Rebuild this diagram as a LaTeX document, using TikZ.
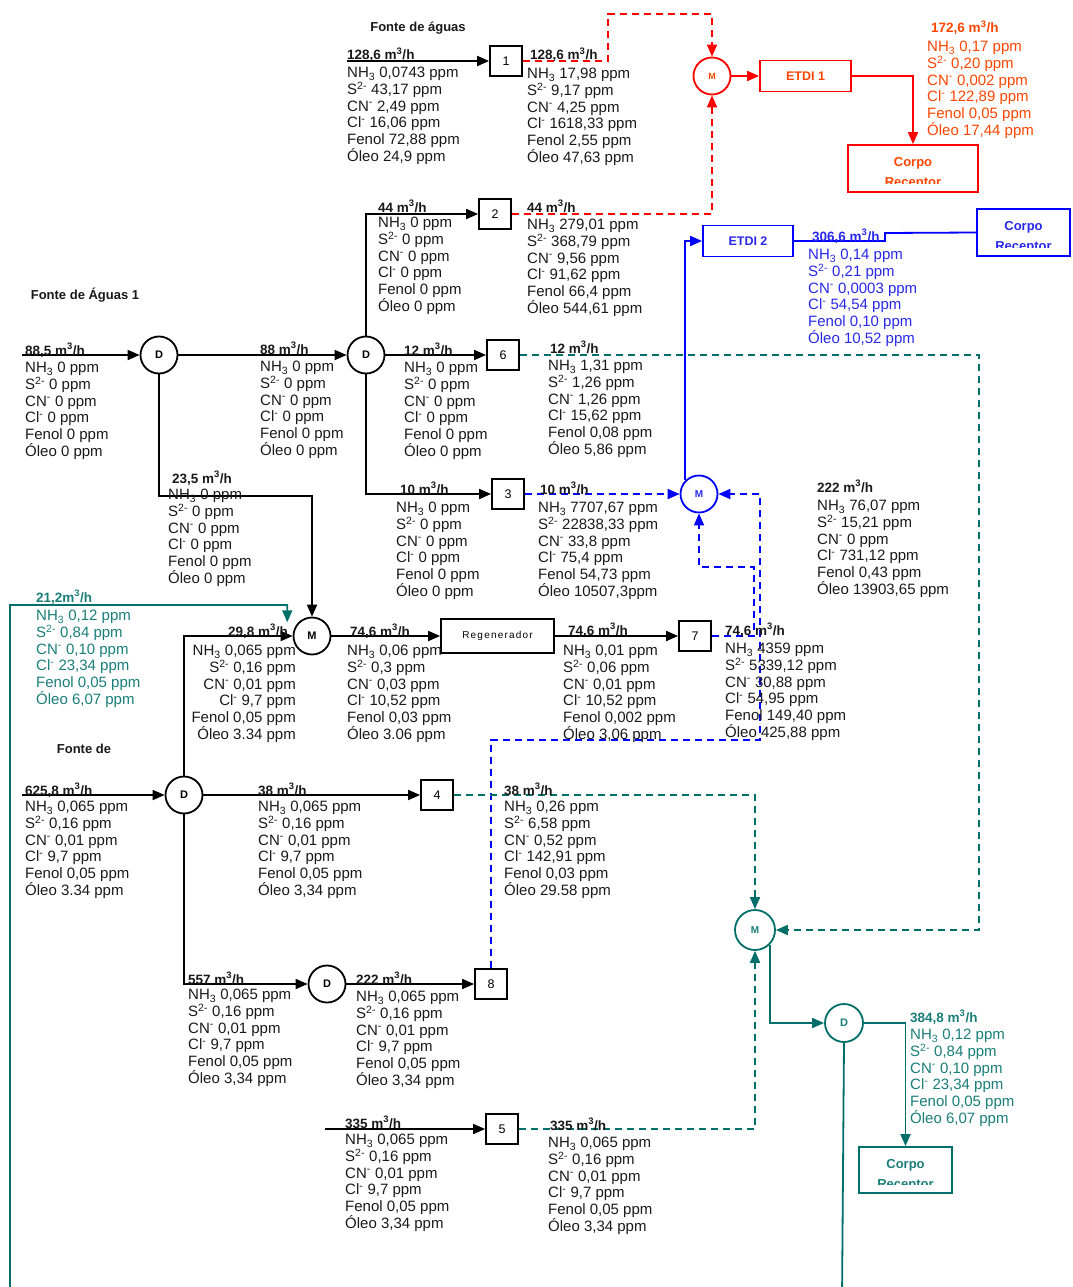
\documentclass[tikz,border=0pt]{standalone}
\usepackage{fontspec}
\setmainfont{Liberation Sans}
\usetikzlibrary{arrows.meta}
\definecolor{rd}{RGB}{255,0,0}
\definecolor{rdt}{RGB}{255,69,0}
\definecolor{bl}{RGB}{0,0,255}
\definecolor{blt}{RGB}{40,40,235}
\definecolor{tl}{RGB}{0,110,105}
\definecolor{tlt}{RGB}{25,125,120}
\definecolor{ink}{RGB}{25,25,25}
% six-line water quality list
\newcommand\pqlist[6]{NH\textsubscript{3} #1\\S\textsuperscript{2-} #2\\CN\textsuperscript{-} #3\\Cl\textsuperscript{-} #4\\Fenol #5\\Óleo #6}
\newcommand\zerolist{\pqlist{0 ppm}{0 ppm}{0 ppm}{0 ppm}{0 ppm}{0 ppm}}
\newcommand\srclist[1]{\pqlist{0,065 ppm}{0,16 ppm}{0,01 ppm}{9,7 ppm}{0,05 ppm}{#1 ppm}}
\newcommand\mcub{m\textsuperscript{3}/h}
% receiving body: box plus a label whose second line is cut by the box margin
\newcommand\corpobox[5]{%
  \node[draw=#2, line width=1.8pt, minimum width=#4pt, minimum height=#5pt] (#1) at #3 {};
  \begin{scope}
    \clip (#1.north west) rectangle ([yshift=9pt]#1.south east);
    \node[corpo, text=#2t, anchor=north] (#1t) at ([yshift=-13pt]#1.north) {Corpo\\Receptor};
  \end{scope}}
\begin{document}
\begin{tikzpicture}[x=1pt,y=-1pt,
  ln/.style={line width=1.8pt},
  tip/.style={-{Triangle[length=12pt,width=10pt]}},
  dsh/.style={dash pattern=on 7pt off 5pt},
  blk/.style={draw, line width=1.8pt, minimum width=32pt, minimum height=30pt, inner sep=0pt, font=\fontsize{12.5}{14}\selectfont},
  jn/.style={circle, draw, line width=1.8pt, minimum size=37pt, inner sep=0pt, font=\bfseries\fontsize{11}{13}\selectfont},
  lst/.style={anchor=north west, align=left, inner sep=0pt, text=ink, font=\fontsize{15}{16.7}\selectfont},
  lstr/.style={anchor=north east, align=right, inner sep=0pt, text=ink, font=\fontsize{15}{16.7}\selectfont},
  flw/.style={anchor=base west, inner sep=0pt, text=ink, font=\bfseries\fontsize{13.5}{15}\selectfont},
  ttl/.style={inner sep=0pt, text=ink, font=\bfseries\fontsize{13}{15}\selectfont},
  unit/.style={draw, line width=1.8pt, inner sep=0pt, font=\bfseries\fontsize{12.5}{14}\selectfont},
  corpo/.style={align=center, inner sep=0pt, font=\bfseries\fontsize{13}{20}\selectfont}]
\useasboundingbox (0,0) rectangle (1072,1287);

% ---------- titles ----------
\node[ttl] (t1) at (418,28) {Fonte de águas};
\node[ttl] (t2) at (85,295) {Fonte de Águas 1};
\node[ttl] (t3) at (84,749) {Fonte de};

% ---------- process blocks ----------
\node[blk] (b1) at (506,61) {1};
\node[blk] (b2) at (495,214) {2};
\node[blk] (b6) at (503,355) {6};
\node[blk] (b3) at (508,494) {3};
\node[blk] (b7) at (695,636) {7};
\node[blk] (b4) at (437,795) {4};
\node[blk] (b8) at (491,984) {8};
\node[blk] (b5) at (502,1129) {5};
\node[draw, line width=1.8pt, minimum width=113pt, minimum height=34pt, inner sep=0pt,
      font=\fontsize{10}{12}\selectfont\addfontfeature{LetterSpace=12}] (reg) at (497.5,636) {Regenerador};

% ---------- splitters and mixers ----------
\node[jn] (D1) at (159,355) {D};
\node[jn] (D2) at (366,355) {D};
\node[jn] (M1) at (312,636) {M};
\node[jn] (D3) at (184,795) {D};
\node[jn] (D4) at (327,984) {D};
\node[jn, draw=rd, text=rdt, font=\bfseries\fontsize{9}{11}\selectfont] (M2) at (712,76) {M};
\node[jn, draw=bl, text=blt, font=\bfseries\fontsize{10}{12}\selectfont] (M3) at (699,494) {M};
\node[jn, draw=tl, text=tlt, minimum size=40pt, font=\bfseries\fontsize{10}{12}\selectfont] (M4) at (755,930) {M};
\node[jn, draw=tl, text=tlt, minimum size=38pt] (D5) at (844,1023) {D};

% ---------- treatment units ----------
\node[unit, draw=rd, text=rdt, minimum width=91pt, minimum height=31pt] (e1) at (805.5,76) {ETDI 1};
\node[unit, draw=bl, text=blt, minimum width=90pt, minimum height=31pt] (e2) at (748,241) {ETDI 2};

% ---------- receiving bodies ----------
\corpobox{c1}{rd}{(913,168.5)}{130}{47}
\corpobox{c2}{bl}{(1023.5,232.5)}{93}{47}
\corpobox{c3}{tl}{(905.5,1170)}{93}{46}

% ---------- black process lines ----------
\coordinate (in1) at (347,61);
\coordinate (in2) at (22,355);
\coordinate (in3) at (22,795);
\coordinate (in4) at (325,1129);
\coordinate (k1) at (312,496);
\draw[ln,tip] (in1) -- (b1.west);
\draw[ln,tip] (D2.north) |- (b2.west);
\draw[ln,tip] (D2.east) -- (b6.west);
\draw[ln,tip] (D2.south) |- (b3.west);
\draw[ln,tip] (in2) -- (D1.west);
\draw[ln,tip] (D1.east) -- (D2.west);
\draw[ln,tip] (D1.south) |- (k1) -- (M1.north);
\draw[ln,tip] (D3.north) |- (M1.west);
\draw[ln,tip] (M1.east) -- (reg.west);
\draw[ln,tip] (reg.east) -- (b7.west);
\draw[ln,tip] (in3) -- (D3.west);
\draw[ln,tip] (D3.east) -- (b4.west);
\draw[ln,tip] (D3.south) |- (D4.west);
\draw[ln,tip] (D4.east) -- (b8.west);
\draw[ln,tip] (in4) -- (b5.west);

% ---------- ETDI 1 line (red) ----------
\draw[ln,rd,dsh,tip] (b1.east) -| (608,14) -| (M2.north);
\draw[ln,rd,dsh,tip] (b2.east) -| (M2.south);
\draw[ln,rd,tip] (M2.east) -- (e1.west);
\draw[ln,rd,tip] (e1.east) -| (c1.north);

% ---------- ETDI 2 line (blue) ----------
\draw[ln,bl,dsh,tip] (b3.east) -- (M3.west);
\draw[ln,bl,tip] (M3.north west) |- (e2.west);
\draw[ln,bl] (e2.east) -| (885,233) -- (c2.west);
\draw[ln,bl,dsh,tip] (b7.east) -| (754,567) -| (M3.south);
\draw[ln,bl,dsh,tip] (b8.north) |- (760,740) |- (M3.east);

% ---------- reuse line (teal) ----------
\draw[ln,tl,dsh,tip] (b6.east) -| (979,930) -- (M4.east);
\draw[ln,tl,dsh,tip] (b4.east) -| (M4.north);
\draw[ln,tl,dsh,tip] (b5.east) -| (M4.south);
\draw[ln,tl,tip] (M4.south east) |- (D5.west);
\draw[ln,tl,tip] (D5.east) -| (c3.north);
\draw[ln,tl,tip] (D5.south) -- (842,1300) -- (10,1300) -- (10,605) -| ([xshift=-11pt]M1.north west);

% ---------- stream data ----------
\node[flw] (f1) at (347,60) {128,6 \mcub};
\node[lst] (q1) at (347,67) {\pqlist{0,0743 ppm}{43,17 ppm}{2,49 ppm}{16,06 ppm}{72,88 ppm}{24,9 ppm}};
\node[flw] (f2) at (530,60) {128,6 \mcub};
\node[lst] (q2) at (527,68) {\pqlist{17,98 ppm}{9,17 ppm}{4,25 ppm}{1618,33 ppm}{2,55 ppm}{47,63 ppm}};
\node[flw, text=rdt] (f3) at (931,33) {172,6 \mcub};
\node[lst, text=rdt] (q3) at (927,41) {\pqlist{0,17 ppm}{0,20 ppm}{0,002 ppm}{122,89 ppm}{0,05 ppm}{17,44 ppm}};
\node[flw] (f4) at (378,212) {44 \mcub};
\node[lst] (q4) at (378,217) {\zerolist};
\node[flw] (f5) at (527,212) {44 \mcub};
\node[lst] (q5) at (527,219) {\pqlist{279,01 ppm}{368,79 ppm}{9,56 ppm}{91,62 ppm}{66,4 ppm}{544,61 ppm}};
\node[flw, text=blt] (f6) at (812,241) {306,6 \mcub};
\node[lst, text=blt] (q6) at (808,249) {\pqlist{0,14 ppm}{0,21 ppm}{0,0003 ppm}{54,54 ppm}{0,10 ppm}{10,52 ppm}};
\node[flw] (f7) at (25,355) {88,5 \mcub};
\node[lst] (q7) at (25,362) {\zerolist};
\node[flw] (f8) at (260,354) {88 \mcub};
\node[lst] (q8) at (260,361) {\zerolist};
\node[flw] (f9) at (404,355) {12 \mcub};
\node[lst] (q9) at (404,362) {\zerolist};
\node[flw] (f10) at (550,353) {12 \mcub};
\node[lst] (q10) at (548,360) {\pqlist{1,31 ppm}{1,26 ppm}{1,26 ppm}{15,62 ppm}{0,08 ppm}{5,86 ppm}};
\node[flw] (f11) at (172,483) {23,5 \mcub};
\node[lst] (q11) at (168,489) {\zerolist};
\node[flw] (f12) at (400,494) {10 \mcub};
\node[lst] (q12) at (396,502) {\zerolist};
\node[flw] (f13) at (540,494) {10 \mcub};
\node[lst] (q13) at (538,502) {\pqlist{7707,67 ppm}{22838,33 ppm}{33,8 ppm}{75,4 ppm}{54,73 ppm}{10507,3ppm}};
\node[flw] (f14) at (817,492) {222 \mcub};
\node[lst] (q14) at (817,500) {\pqlist{76,07 ppm}{15,21 ppm}{0 ppm}{731,12 ppm}{0,43 ppm}{13903,65 ppm}};
\node[flw, text=tlt] (f15) at (36,602) {21,2\mcub};
\node[lst, text=tlt] (q15) at (36,610) {\pqlist{0,12 ppm}{0,84 ppm}{0,10 ppm}{23,34 ppm}{0,05 ppm}{6,07 ppm}};
\node[flw] (f16) at (228,636) {29,8 \mcub};
\node[lstr] (q16) at (296,645) {\srclist{3.34}};
\node[flw] (f17) at (350,636) {74,6 \mcub};
\node[lst] (q17) at (347,645) {\pqlist{0,06 ppm}{0,3 ppm}{0,03 ppm}{10,52 ppm}{0,03 ppm}{3.06 ppm}};
\node[flw] (f18) at (568,635) {74,6 \mcub};
\node[lst] (q18) at (563,645) {\pqlist{0,01 ppm}{0,06 ppm}{0,01 ppm}{10,52 ppm}{0,002 ppm}{3,06 ppm}};
\node[flw] (f19) at (725,635) {74,6 \mcub};
\node[lst] (q19) at (725,643) {\pqlist{4359 ppm}{5339,12 ppm}{30,88 ppm}{54,95 ppm}{149,40 ppm}{425,88 ppm}};
\node[flw] (f20) at (25,795) {625,8 \mcub};
\node[lst] (q20) at (25,801) {\srclist{3.34}};
\node[flw] (f21) at (258,795) {38 \mcub};
\node[lst] (q21) at (258,801) {\srclist{3,34}};
\node[flw] (f22) at (504,795) {38 \mcub};
\node[lst] (q22) at (504,801) {\pqlist{0,26 ppm}{6,58 ppm}{0,52 ppm}{142,91 ppm}{0,03 ppm}{29.58 ppm}};
\node[flw] (f23) at (188,984) {557 \mcub};
\node[lst] (q23) at (188,989) {\srclist{3,34}};
\node[flw] (f24) at (356,984) {222 \mcub};
\node[lst] (q24) at (356,991) {\srclist{3,34}};
\node[flw] (f25) at (345,1128) {335 \mcub};
\node[lst] (q25) at (345,1134) {\srclist{3,34}};
\node[flw] (f26) at (550,1130) {335 \mcub};
\node[lst] (q26) at (548,1137) {\srclist{3,34}};
\node[flw, text=tlt] (f27) at (910,1022) {384,8 \mcub};
\node[lst, text=tlt] (q27) at (910,1029) {\pqlist{0,12 ppm}{0,84 ppm}{0,10 ppm}{23,34 ppm}{0,05 ppm}{6,07 ppm}};
\end{tikzpicture}
\end{document}
